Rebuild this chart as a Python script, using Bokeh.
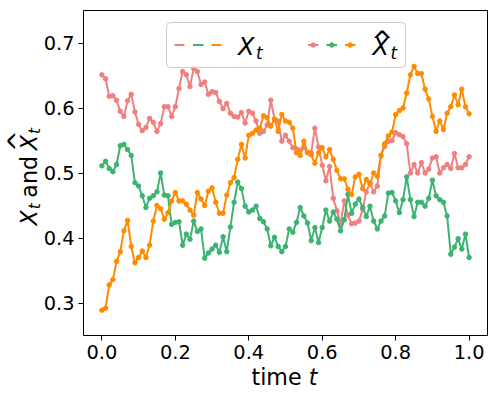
import math
from bokeh.plotting import figure
from bokeh.models import FixedTicker, Label, BoxAnnotation, Range1d, LinearAxis
from bokeh.embed import file_html
from bokeh.resources import INLINE

# ---------------- data ----------------
t = [i / 100 for i in range(101)]

x_pink = [0.651, 0.645, 0.618, 0.619, 0.612, 0.595, 0.587, 0.611, 0.621, 0.594,
          0.575, 0.565, 0.570, 0.584, 0.578, 0.564, 0.576, 0.602, 0.602, 0.587,
          0.602, 0.630, 0.656, 0.651, 0.633, 0.661, 0.656, 0.636, 0.640, 0.621,
          0.625, 0.624, 0.610, 0.599, 0.607, 0.592, 0.587, 0.586, 0.593, 0.577,
          0.595, 0.592, 0.580, 0.561, 0.564, 0.574, 0.612, 0.583, 0.580, 0.549,
          0.558, 0.549, 0.539, 0.537, 0.535, 0.539, 0.532, 0.531, 0.569, 0.540,
          0.512, 0.488, 0.510, 0.461, 0.442, 0.421, 0.457, 0.435, 0.422, 0.423,
          0.426, 0.444, 0.471, 0.485, 0.471, 0.480, 0.527, 0.541, 0.549, 0.550,
          0.562, 0.559, 0.556, 0.545, 0.500, 0.513, 0.500, 0.516, 0.500, 0.506,
          0.523, 0.525, 0.500, 0.508, 0.513, 0.507, 0.530, 0.508, 0.508, 0.513,
          0.525]

x_green = [0.511, 0.518, 0.507, 0.502, 0.513, 0.542, 0.544, 0.536, 0.527, 0.485,
           0.480, 0.465, 0.447, 0.461, 0.465, 0.471, 0.500, 0.466, 0.465, 0.421,
           0.424, 0.425, 0.389, 0.406, 0.398, 0.426, 0.410, 0.414, 0.369, 0.377,
           0.383, 0.389, 0.378, 0.402, 0.379, 0.417, 0.455, 0.486, 0.476, 0.449,
           0.440, 0.443, 0.449, 0.430, 0.425, 0.414, 0.388, 0.401, 0.387, 0.379,
           0.387, 0.414, 0.409, 0.424, 0.447, 0.434, 0.423, 0.396, 0.416, 0.393,
           0.416, 0.443, 0.426, 0.440, 0.429, 0.411, 0.428, 0.467, 0.438, 0.452,
           0.460, 0.447, 0.433, 0.449, 0.426, 0.414, 0.426, 0.434, 0.469, 0.470,
           0.457, 0.439, 0.459, 0.494, 0.459, 0.433, 0.455, 0.455, 0.449, 0.461,
           0.489, 0.465, 0.459, 0.455, 0.434, 0.375, 0.386, 0.399, 0.383, 0.406,
           0.370]

x_orange = [0.289, 0.292, 0.328, 0.336, 0.364, 0.379, 0.411, 0.427, 0.387, 0.362,
            0.370, 0.380, 0.370, 0.389, 0.426, 0.450, 0.445, 0.429, 0.439, 0.457,
            0.470, 0.457, 0.457, 0.452, 0.443, 0.435, 0.470, 0.460, 0.450, 0.472,
            0.477, 0.455, 0.438, 0.438, 0.466, 0.485, 0.493, 0.521, 0.544, 0.523,
            0.558, 0.561, 0.566, 0.569, 0.588, 0.585, 0.572, 0.583, 0.564, 0.590,
            0.580, 0.578, 0.569, 0.531, 0.527, 0.549, 0.531, 0.528, 0.515, 0.531,
            0.539, 0.525, 0.536, 0.521, 0.504, 0.491, 0.491, 0.475, 0.467, 0.494,
            0.498, 0.476, 0.490, 0.483, 0.500, 0.495, 0.527, 0.545, 0.557, 0.563,
            0.590, 0.596, 0.600, 0.623, 0.651, 0.664, 0.653, 0.653, 0.629, 0.614,
            0.587, 0.564, 0.580, 0.567, 0.592, 0.602, 0.620, 0.605, 0.629, 0.602,
            0.591]

series = [x_pink, x_green, x_orange]
colors = ["#F08080", "#3CB371", "#FF8C00"]

x_ticks = [0.0, 0.2, 0.4, 0.6, 0.8, 1.0]
x_tick_labels = ["0.0", "0.2", "0.4", "0.6", "0.8", "1.0"]
y_ticks = [0.3, 0.4, 0.5, 0.6, 0.7]
y_tick_labels = ["0.3", "0.4", "0.5", "0.6", "0.7"]

# ---------------- layout ----------------
W, H = 498, 399
AL, AR, AT, AB = 83, 487, 10, 335        # axes box in canvas pixels
XLIM = (-0.05, 1.05)
YLIM = (0.25, 0.75)
sx = (XLIM[1] - XLIM[0]) / (AR - AL)
sy = (YLIM[1] - YLIM[0]) / (AB - AT)
XR = (XLIM[0] - AL * sx, XLIM[0] + (W - AL) * sx)
YR = (YLIM[1] - (H - AT) * sy, YLIM[1] + AT * sy)

FONT = "DejaVu Sans"
TICK = "19.4px"
LBL = 22.2
LEG = 24.0
MID = 0.346          # baseline-to-anchor shift observed in the renderer (em)


def DX(ix):
    return XR[0] + ix * sx


def DY(iy):
    return YR[1] - iy * sy


p = figure(width=W, height=H, x_range=Range1d(*XR), y_range=Range1d(*YR),
           output_backend="svg", toolbar_location=None,
           min_border_left=0, min_border_right=0,
           min_border_top=0, min_border_bottom=0)
p.grid.visible = False
p.outline_line_color = None
p.background_fill_color = "white"
p.border_fill_color = "white"


def style_axis(ax, ticks, labels, bounds, loc):
    ax.fixed_location = loc
    ax.bounds = bounds
    ax.ticker = FixedTicker(ticks=ticks, minor_ticks=[])
    if labels:
        ax.major_label_overrides = {tk: lb for tk, lb in zip(ticks, labels)}
        ax.major_label_text_font = FONT
        ax.major_label_text_font_size = TICK
        ax.major_label_text_color = "black"
    else:
        ax.major_label_text_font_size = "0px"
    ax.axis_line_color = "black"
    ax.axis_line_width = 1
    ax.major_tick_line_color = "black"
    ax.major_tick_out = 5
    ax.major_tick_in = 0
    ax.minor_tick_out = 0
    ax.minor_tick_in = 0
    ax.major_label_standoff = 4


style_axis(p.xaxis[0], x_ticks, x_tick_labels, XLIM, YLIM[0])
style_axis(p.yaxis[0], y_ticks, y_tick_labels, YLIM, XLIM[0])
top_spine = LinearAxis()
style_axis(top_spine, [], [], XLIM, YLIM[1])
p.add_layout(top_spine, "above")
right_spine = LinearAxis()
style_axis(right_spine, [], [], YLIM, XLIM[1])
p.add_layout(right_spine, "right")

# ---------------- data lines ----------------
for ys, c in zip(series, colors):
    p.line(t, ys, line_color=c, line_width=2)
    p.scatter(t, ys, marker="circle", size=4.5, fill_color=c, line_color=c)


# ---------------- texts ----------------
def lab(text, ix, iy, size, italic=False, rotated=False, align="left"):
    # (ix, iy) is the wanted baseline point; shift to the renderer's anchor
    if rotated:
        ix -= MID * size
        angle = math.pi / 2
    else:
        iy -= MID * size
        angle = 0.0
    p.add_layout(Label(x=DX(ix), y=DY(iy), text=text, text_font=FONT,
                       text_font_size=f"{size:.1f}px",
                       text_font_style="italic" if italic else "normal",
                       angle=angle, text_align=align, text_baseline="alphabetic",
                       text_color="black", level="overlay"))


# x label: "time t"
lab("time", 251, 384, LBL)
lab("t", 251 + (2.259 + 0.318) * LBL, 384, LBL, italic=True)

# y label: "X_t and \hat X_t" (rotated)
SUB = 0.7 * LBL
yb = 225
lab("X", 36.5, yb, LBL, italic=True, rotated=True)
yb -= 0.685 * LBL + 1
lab("t", 40, yb, SUB, italic=True, rotated=True)
yb -= 0.392 * SUB + 0.25 * LBL
lab("and", 36.5, yb, LBL, rotated=True)
yb -= 1.882 * LBL + 0.25 * LBL
lab("X", 36.5, yb, LBL, italic=True, rotated=True)
lab("^", 26.5, yb - 0.685 * LBL / 2 - 1.5, 26, rotated=True, align="center")
yb -= 0.685 * LBL + 1
lab("t", 40, yb, SUB, italic=True, rotated=True)

# ---------------- legend ----------------
p.add_layout(BoxAnnotation(left=DX(166), right=DX(405), top=DY(22), bottom=DY(67),
                           fill_color="white", fill_alpha=0.8,
                           line_color="#cccccc", line_alpha=1.0, line_width=1,
                           line_dash="solid", border_radius=4))

row = 44.5
dash_x = [(174, 184), (192.5, 203), (211, 221)]
dot_x = [(307.5, 318), (326, 336.5), (344.5, 355)]
for (a, b), c in zip(dash_x, colors):
    p.segment(x0=[DX(a)], y0=[DY(row)], x1=[DX(b)], y1=[DY(row)],
              line_color=c, line_width=2, level="overlay")
for (a, b), c in zip(dot_x, colors):
    p.segment(x0=[DX(a)], y0=[DY(row)], x1=[DX(b)], y1=[DY(row)],
              line_color=c, line_width=2, level="overlay")
    p.scatter(x=[DX((a + b) / 2)], y=[DY(row)], marker="circle", size=4.5,
              fill_color=c, line_color=c, level="overlay")

lab("X", 237.5, 54.5, LEG, italic=True)
lab("t", 237.5 + 0.685 * LEG + 1.5, 58, 0.7 * LEG, italic=True)
lab("X", 372, 54.5, LEG, italic=True)
lab("^", 372 + 0.685 * LEG / 2 + 1.5, 49, 26, align="center")
lab("t", 372 + 0.685 * LEG + 1.5, 58, 0.7 * LEG, italic=True)

open("out.html", "w").write(file_html(p, INLINE))
